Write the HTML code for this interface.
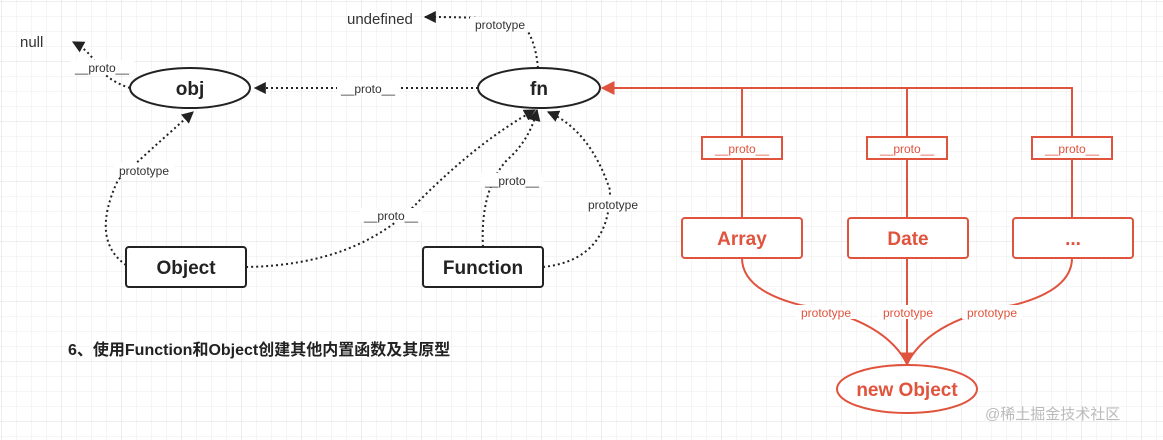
<!DOCTYPE html>
<html><head><meta charset="utf-8"><style>
html,body{margin:0;padding:0;background:#fff}
svg{display:block}
text{font-family:"Liberation Sans","Noto Sans CJK SC",sans-serif}
</style></head><body>
<svg width="1163" height="440" viewBox="0 0 1163 440" xmlns="http://www.w3.org/2000/svg">
<defs>
<pattern id="g1" width="15" height="15" patternUnits="userSpaceOnUse" x="2" y="2">
<path d="M15 0V15H0" fill="none" stroke="#ebebeb" stroke-width="1"/></pattern>
<pattern id="g2" width="60" height="60" patternUnits="userSpaceOnUse" x="2" y="2">
<path d="M60 0V60H0" fill="none" stroke="#dcdcdc" stroke-width="1"/></pattern>
<marker id="ab" viewBox="0 0 10 10" refX="9" refY="5" markerWidth="12" markerHeight="12" markerUnits="userSpaceOnUse" orient="auto"><path d="M0 0L10 5L0 10z" fill="#222"/></marker>
<marker id="ar" viewBox="0 0 10 10" refX="9" refY="5" markerWidth="14" markerHeight="14" markerUnits="userSpaceOnUse" orient="auto"><path d="M0 0L10 5L0 10z" fill="#e0533d"/></marker>
</defs>
<rect width="1163" height="440" fill="url(#g1)"/>
<rect width="1163" height="440" fill="url(#g2)"/>

<g fill="none" stroke="#222" stroke-width="2" stroke-dasharray="2,3">
<path d="M130 88 Q105 80 95 62 Q88 50 73 42" marker-end="url(#ab)"/>
<path d="M478 88 H255" marker-end="url(#ab)"/>
<path d="M538 68 Q535 35 520 22 Q500 17 425 17" marker-end="url(#ab)"/>
<path d="M126 265 Q90 240 118 180 Q150 150 193 112" marker-end="url(#ab)"/>
<path d="M246 267 Q360 265 420 200 Q480 140 535 110" marker-end="url(#ab)"/>
<path d="M483 247 Q480 190 507 160 Q530 140 537 110" marker-end="url(#ab)"/>
<path d="M543 267 Q610 260 610 190 Q590 130 548 112" marker-end="url(#ab)"/>
</g>
<g font-size="12" fill="#333" text-anchor="middle">
<rect x="70" y="60" width="64" height="14" fill="#fff"/><text x="102" y="72">__proto__</text>
<rect x="337" y="81" width="62" height="14" fill="#fff"/><text x="368" y="93">__proto__</text>
<rect x="470" y="17" width="60" height="14" fill="#fff"/><text x="500" y="29">prototype</text>
<rect x="114" y="163" width="60" height="14" fill="#fff"/><text x="144" y="175">prototype</text>
<rect x="360" y="208" width="62" height="14" fill="#fff"/><text x="391" y="220">__proto__</text>
<rect x="481" y="173" width="62" height="14" fill="#fff"/><text x="512" y="185">__proto__</text>
<rect x="583" y="197" width="60" height="14" fill="#fff"/><text x="613" y="209">prototype</text>
</g>
<text x="20" y="47" font-size="15" fill="#333">null</text>
<text x="347" y="24" font-size="15" fill="#333">undefined</text>

<g fill="#fff" stroke="#222" stroke-width="2">
<ellipse cx="190" cy="88" rx="60" ry="20"/>
<ellipse cx="539" cy="88" rx="61" ry="20"/>
<rect x="126" y="247" width="120" height="40" rx="3"/>
<rect x="423" y="247" width="120" height="40" rx="3"/>
</g>
<g font-size="19" fill="#222" text-anchor="middle" style="font-weight:600">
<text x="190" y="95">obj</text>
<text x="539" y="95">fn</text>
<text x="186" y="274">Object</text>
<text x="483" y="274">Function</text>
</g>

<g fill="#fff" stroke="#e0533d" stroke-width="2">
<rect x="702" y="137" width="80" height="22"/>
<rect x="867" y="137" width="80" height="22"/>
<rect x="1032" y="137" width="80" height="22"/>
<rect x="682" y="218" width="120" height="40" rx="3"/>
<rect x="848" y="218" width="120" height="40" rx="3"/>
<rect x="1013" y="218" width="120" height="40" rx="3"/>
<ellipse cx="907" cy="389" rx="70" ry="24"/>
</g>
<g fill="none" stroke="#e0533d" stroke-width="2">
<path d="M1072 137 V88 H602" marker-end="url(#ar)"/>
<path d="M742 218 V159"/><path d="M742 137 V88"/>
<path d="M907 218 V159"/><path d="M907 137 V88"/>
<path d="M1072 218 V159"/>
<path d="M742 258 Q742 290 800 305 Q880 318 905 360"/>
<path d="M1072 258 Q1072 290 1014 305 Q934 318 909 360"/>
<path d="M907 258 V365" marker-end="url(#ar)"/>
</g>
<g fill="#e0533d" text-anchor="middle">
<g font-size="12"><text x="742" y="153">__proto__</text><text x="907" y="153">__proto__</text><text x="1072" y="153">__proto__</text></g>
<g font-size="12"><rect x="796" y="305" width="60" height="14" fill="#fff"/><text x="826" y="317">prototype</text>
<rect x="878" y="305" width="60" height="14" fill="#fff"/><text x="908" y="317">prototype</text>
<rect x="962" y="305" width="60" height="14" fill="#fff"/><text x="992" y="317">prototype</text></g>
<g font-size="19" style="font-weight:600"><text x="742" y="245">Array</text><text x="908" y="245">Date</text><text x="1073" y="245">...</text>
<text x="907" y="396">new Object</text></g>
</g>
<text x="68" y="355" font-size="16" fill="#222" style="font-weight:600">6、使用Function和Object创建其他内置函数及其原型</text>
<text x="985" y="419" font-size="15" fill="#bbb">@稀土掘金技术社区</text>
</svg>
</body></html>
